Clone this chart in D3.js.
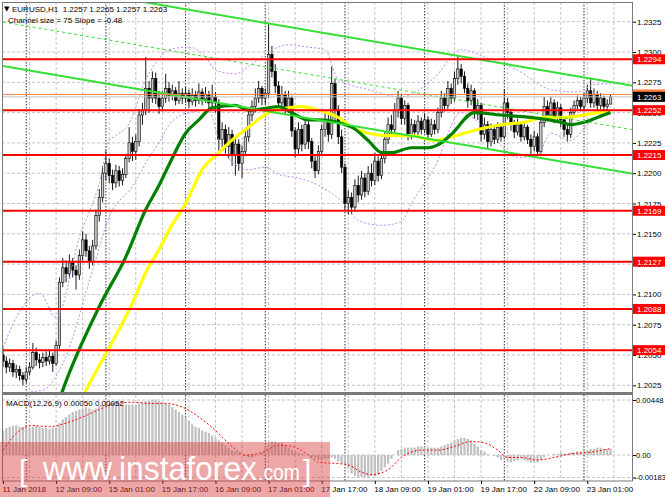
<!DOCTYPE html>
<html><head><meta charset="utf-8">
<script src="https://cdn.jsdelivr.net/npm/d3@7"></script>
<style>
body{margin:0;background:#fff;}
svg{display:block;font-family:"Liberation Sans",Arial,sans-serif;}
</style>
</head><body>
<svg id="c" width="665" height="499"></svg>
<script>
// ---------- texts ----------
const symbolHeader = "EURUSD,H1  1.2257 1.2265 1.2257 1.2263";
const channelInfo = "Channel size = 75 Slope = -0.48";
const macdHeader = "MACD(12,26,9) 0.00050 0.00052";

// ---------- axes ----------
const timeLabels = ["11 Jan 2018","12 Jan 09:00","15 Jan 01:00","15 Jan 17:00","16 Jan 09:00","17 Jan 01:00","17 Jan 17:00","18 Jan 09:00","19 Jan 01:00","19 Jan 17:00","22 Jan 09:00","23 Jan 01:00"];
const timeLabelIdx = [0,16,32,48,64,80,96,112,128,144,160,176];
const daySepIdx = [7,31,55,79,103,127,151,175];
const gridIdx = [8,16,24,32,40,48,56,64,72,80,88,96,104,112,120,128,136,144,152,160,168,176,184];
const priceTicks = [1.2025,1.2050,1.2075,1.2100,1.2125,1.2150,1.2175,1.2200,1.2225,1.2250,1.2275,1.2300,1.2325];
const macdTicks = [0.00448, 0.0, -0.00183];
const macdTickLabels = ["0.00448","0.00","-0.00183"];

// ---------- levels ----------
const levelValues = [1.2294,1.2252,1.2215,1.2169,1.2127,1.2088,1.2054];
const orangeLevel = 1.2265;
const lastPrice = 1.2263;

// ---------- candles (H1) ----------
const openP = [1.2050,1.2045,1.2040,1.2043,1.2036,1.2038,1.2033,1.2030,1.2036,1.2040,
1.2052,1.2046,1.2044,1.2048,1.2045,1.2049,1.2043,1.2058,1.2110,1.2122,
1.2117,1.2126,1.2120,1.2116,1.2132,1.2145,1.2136,1.2127,1.2140,1.2165,
1.2180,1.2200,1.2208,1.2198,1.2192,1.2202,1.2194,1.2199,1.2212,1.2225,
1.2218,1.2226,1.2248,1.2252,1.2270,1.2262,1.2278,1.2262,1.2255,1.2262,
1.2270,1.2264,1.2268,1.2260,1.2266,1.2262,1.2266,1.2259,1.2264,1.2260,
1.2267,1.2261,1.2265,1.2258,1.2263,1.2258,1.2228,1.2236,1.2222,1.2232,
1.2215,1.2224,1.2208,1.2218,1.2230,1.2248,1.2255,1.2262,1.2270,1.2262,
1.2266,1.2298,1.2284,1.2272,1.2258,1.2265,1.2254,1.2262,1.2235,1.2220,
1.2236,1.2224,1.2240,1.2226,1.2210,1.2202,1.2218,1.2236,1.2244,1.2232,
1.2274,1.2252,1.2230,1.2205,1.2175,1.2180,1.2172,1.2190,1.2182,1.2196,
1.2185,1.2200,1.2194,1.2210,1.2198,1.2212,1.2228,1.2240,1.2236,1.2252,
1.2262,1.2245,1.2256,1.2232,1.2240,1.2234,1.2243,1.2236,1.2244,1.2232,
1.2240,1.2236,1.2250,1.2262,1.2256,1.2270,1.2262,1.2278,1.2286,1.2280,
1.2270,1.2260,1.2268,1.2250,1.2256,1.2232,1.2240,1.2226,1.2236,1.2228,
1.2238,1.2230,1.2258,1.2250,1.2240,1.2234,1.2240,1.2230,1.2238,1.2228,
1.2222,1.2230,1.2218,1.2242,1.2255,1.2248,1.2258,1.2246,1.2254,1.2244,
1.2236,1.2232,1.2250,1.2256,1.2260,1.2255,1.2262,1.2268,1.2258,1.2265,
1.2256,1.2262,1.2255,1.2257];
const highP = [1.2056,1.2049,1.2047,1.2046,1.2042,1.2041,1.2036,1.2040,1.2044,1.2060,
1.2056,1.2051,1.2052,1.2053,1.2054,1.2052,1.2062,1.2114,1.2130,1.2128,
1.2133,1.2130,1.2124,1.2137,1.2152,1.2150,1.2140,1.2145,1.2170,1.2187,
1.2206,1.2219,1.2212,1.2203,1.2207,1.2206,1.2204,1.2216,1.2238,1.2230,
1.2232,1.2253,1.2258,1.2296,1.2276,1.2284,1.2283,1.2268,1.2268,1.2282,
1.2275,1.2273,1.2271,1.2276,1.2270,1.2271,1.2269,1.2270,1.2268,1.2274,
1.2270,1.2271,1.2268,1.2273,1.2267,1.2261,1.2242,1.2240,1.2238,1.2236,
1.2229,1.2228,1.2223,1.2235,1.2252,1.2260,1.2270,1.2276,1.2272,1.2270,
1.2323,1.2305,1.2290,1.2276,1.2272,1.2268,1.2268,1.2264,1.2238,1.2242,
1.2240,1.2246,1.2243,1.2229,1.2214,1.2223,1.2240,1.2250,1.2248,1.2288,
1.2278,1.2256,1.2236,1.2208,1.2186,1.2184,1.2195,1.2198,1.2202,1.2200,
1.2206,1.2208,1.2217,1.2214,1.2218,1.2234,1.2246,1.2248,1.2258,1.2268,
1.2265,1.2260,1.2258,1.2245,1.2244,1.2248,1.2246,1.2249,1.2247,1.2245,
1.2244,1.2254,1.2268,1.2266,1.2276,1.2274,1.2284,1.2296,1.2290,1.2284,
1.2274,1.2273,1.2270,1.2261,1.2258,1.2246,1.2243,1.2241,1.2240,1.2242,
1.2241,1.2269,1.2262,1.2253,1.2244,1.2245,1.2243,1.2242,1.2240,1.2232,
1.2235,1.2233,1.2246,1.2263,1.2260,1.2263,1.2261,1.2259,1.2257,1.2247,
1.2240,1.2254,1.2260,1.2264,1.2263,1.2266,1.2273,1.2278,1.2270,1.2268,
1.2266,1.2264,1.2261,1.2265];
const lowP = [1.2040,1.2035,1.2036,1.2032,1.2031,1.2029,1.2025,1.2027,1.2033,1.2038,
1.2041,1.2039,1.2040,1.2041,1.2042,1.2036,1.2041,1.2055,1.2106,1.2110,
1.2113,1.2114,1.2104,1.2112,1.2128,1.2131,1.2121,1.2124,1.2137,1.2160,
1.2176,1.2194,1.2192,1.2186,1.2188,1.2189,1.2190,1.2196,1.2209,1.2210,
1.2211,1.2222,1.2240,1.2248,1.2250,1.2258,1.2257,1.2249,1.2251,1.2258,
1.2259,1.2260,1.2256,1.2257,1.2257,1.2258,1.2254,1.2256,1.2255,1.2257,
1.2256,1.2258,1.2253,1.2254,1.2250,1.2218,1.2222,1.2215,1.2212,1.2206,
1.2198,1.2202,1.2196,1.2214,1.2226,1.2243,1.2250,1.2258,1.2256,1.2257,
1.2262,1.2279,1.2266,1.2252,1.2254,1.2249,1.2250,1.2230,1.2213,1.2216,
1.2218,1.2220,1.2220,1.2204,1.2196,1.2199,1.2214,1.2230,1.2226,1.2228,
1.2244,1.2224,1.2200,1.2170,1.2166,1.2166,1.2168,1.2176,1.2178,1.2180,
1.2182,1.2189,1.2190,1.2193,1.2195,1.2208,1.2224,1.2230,1.2232,1.2246,
1.2240,1.2240,1.2227,1.2228,1.2230,1.2231,1.2232,1.2233,1.2229,1.2230,
1.2232,1.2233,1.2246,1.2251,1.2253,1.2257,1.2259,1.2273,1.2274,1.2266,
1.2254,1.2256,1.2245,1.2244,1.2226,1.2228,1.2220,1.2222,1.2224,1.2225,
1.2226,1.2228,1.2245,1.2235,1.2229,1.2231,1.2226,1.2227,1.2224,1.2215,
1.2218,1.2214,1.2216,1.2238,1.2243,1.2244,1.2241,1.2242,1.2238,1.2230,
1.2226,1.2229,1.2246,1.2252,1.2251,1.2252,1.2258,1.2254,1.2254,1.2251,
1.2253,1.2250,1.2252,1.2257];
const closeP = [1.2045,1.2040,1.2043,1.2036,1.2038,1.2033,1.2030,1.2036,1.2040,1.2052,
1.2046,1.2044,1.2048,1.2045,1.2049,1.2043,1.2058,1.2110,1.2122,1.2117,
1.2126,1.2120,1.2116,1.2132,1.2145,1.2136,1.2127,1.2140,1.2165,1.2180,
1.2200,1.2208,1.2198,1.2192,1.2202,1.2194,1.2199,1.2212,1.2225,1.2218,
1.2226,1.2248,1.2252,1.2270,1.2262,1.2278,1.2262,1.2255,1.2262,1.2270,
1.2264,1.2268,1.2260,1.2266,1.2262,1.2266,1.2259,1.2264,1.2260,1.2267,
1.2261,1.2265,1.2258,1.2263,1.2258,1.2228,1.2236,1.2222,1.2232,1.2215,
1.2224,1.2208,1.2218,1.2230,1.2248,1.2255,1.2262,1.2270,1.2262,1.2266,
1.2298,1.2284,1.2272,1.2258,1.2265,1.2254,1.2262,1.2235,1.2220,1.2236,
1.2224,1.2240,1.2226,1.2210,1.2202,1.2218,1.2236,1.2244,1.2232,1.2274,
1.2252,1.2230,1.2205,1.2175,1.2180,1.2172,1.2190,1.2182,1.2196,1.2185,
1.2200,1.2194,1.2210,1.2198,1.2212,1.2228,1.2240,1.2236,1.2252,1.2262,
1.2245,1.2256,1.2232,1.2240,1.2234,1.2243,1.2236,1.2244,1.2232,1.2240,
1.2236,1.2250,1.2262,1.2256,1.2270,1.2262,1.2278,1.2286,1.2280,1.2270,
1.2260,1.2268,1.2250,1.2256,1.2232,1.2240,1.2226,1.2236,1.2228,1.2238,
1.2230,1.2258,1.2250,1.2240,1.2234,1.2240,1.2230,1.2238,1.2228,1.2222,
1.2230,1.2218,1.2242,1.2255,1.2248,1.2258,1.2246,1.2254,1.2244,1.2236,
1.2232,1.2250,1.2256,1.2260,1.2255,1.2262,1.2268,1.2258,1.2265,1.2256,
1.2262,1.2255,1.2257,1.2263];

// ---------- moving averages (read at key bars) ----------
const maGreenIdx = [16,18,29,37,43,47,50,55,59,63,70,74,80,83,87,92,95,105,110,114,117,123,128,132,135,142,150,159,168,171,175,179,183];
const maGreenVal = [1.2005,1.2021,1.2090,1.2131,1.2170,1.2190,1.2207,1.2233,1.2244,1.2254,1.2256,1.2252,1.2254,1.2255,1.2250,1.2244,1.2244,1.2238,1.2227,1.2217,1.2217,1.2221,1.2221,1.2225,1.2232,1.2250,1.2248,1.2246,1.2242,1.2240,1.2242,1.2246,1.2250];
const maYellowIdx = [22,25,32,39,43,47,50,55,60,65,68,74,80,86,90,95,101,105,110,116,123,130,135,143,150,157,163,169,175,179,183];
const maYellowVal = [1.2004,1.2021,1.2056,1.2093,1.2118,1.2137,1.2153,1.2175,1.2203,1.2217,1.2225,1.2238,1.2250,1.2254,1.2255,1.2252,1.2246,1.2238,1.2233,1.2231,1.2231,1.2227,1.2230,1.2236,1.2240,1.2242,1.2246,1.2246,1.2248,1.2250,1.2251];

// ---------- bollinger bands (read at key bars) ----------
const bbUpIdx = [0,4,11,16,23,29,32,34,38,43,46,50,56,61,64,70,75,80,86,92,97,101,110,120,130,138,145,155,165,173,178,183];
const bbUpVal = [1.2056,1.2081,1.2101,1.2081,1.2147,1.2192,1.2227,1.2231,1.2241,1.2277,1.2291,1.2302,1.2304,1.2296,1.2285,1.2282,1.2290,1.2300,1.2306,1.2304,1.2302,1.2277,1.2269,1.2263,1.2279,1.2302,1.2296,1.2285,1.2269,1.2267,1.2273,1.2274];
const bbLoIdx = [0,12,18,27,32,39,44,47,50,56,62,65,70,74,79,83,89,95,103,107,114,120,123,130,138,145,155,161,165,171,176,183];
const bbLoVal = [1.2018,1.2021,1.2043,1.2120,1.2164,1.2189,1.2213,1.2225,1.2240,1.2250,1.2252,1.2227,1.2207,1.2203,1.2205,1.2199,1.2196,1.2190,1.2174,1.2161,1.2157,1.2160,1.2175,1.2205,1.2250,1.2238,1.2213,1.2215,1.2233,1.2227,1.2240,1.2255];

// ---------- regression channel ----------
const channelIdx = [0,190];
const channelMid = [1.23248,1.22357];
const channelUp = [1.23611,1.22720];
const channelLo = [1.22885,1.21994];

// ---------- MACD ----------
const macdHist = [0.0020,0.0022,0.0023,0.0024,0.0024,0.0023,0.0023,0.0023,0.0022,0.0023,
0.0024,0.0023,0.0022,0.0022,0.0021,0.0022,0.0022,0.0026,0.0029,0.0031,
0.0033,0.0035,0.0036,0.0037,0.0038,0.0039,0.0038,0.0037,0.0038,0.0040,
0.0041,0.0042,0.0042,0.0043,0.0042,0.0042,0.0041,0.0041,0.0041,0.0041,
0.0041,0.0042,0.0043,0.0044,0.0044,0.0045,0.0045,0.0044,0.0043,0.0042,
0.0041,0.0039,0.0037,0.0035,0.0033,0.0031,0.0028,0.0025,0.0023,0.0022,
0.0020,0.0019,0.0018,0.0016,0.0014,0.0012,0.0010,0.0008,0.0006,0.0004,
0.0003,0.0002,0.0000,-0.0001,-0.0002,-0.0002,-0.0001,0.0000,0.0002,0.0006,
0.0009,0.0011,0.0011,0.0010,0.0010,0.0008,0.0006,0.0004,0.0003,0.0002,
0.0001,0.0000,0.0000,-0.0002,-0.0003,-0.0004,-0.0004,-0.0003,-0.0003,-0.0002,
-0.0003,-0.0005,-0.0007,-0.0009,-0.0011,-0.0015,-0.0017,-0.0018,-0.0018,-0.0018,
-0.0018,-0.0017,-0.0017,-0.0016,-0.0013,-0.0010,-0.0007,-0.0003,0.0000,0.0004,
0.0005,0.0006,0.0006,0.0006,0.0006,0.0007,0.0007,0.0007,0.0006,0.0006,
0.0006,0.0006,0.0007,0.0008,0.0009,0.0010,0.0012,0.0013,0.0014,0.0014,
0.0013,0.0012,0.0009,0.0007,0.0004,0.0003,0.0001,0.0000,-0.0001,-0.0002,
-0.0004,-0.0003,-0.0005,-0.0006,-0.0005,-0.0004,-0.0003,-0.0004,-0.0005,-0.0006,
-0.0006,-0.0006,-0.0004,-0.0002,0.0000,0.0000,0.0001,0.0001,0.0002,0.0001,
0.0001,0.0002,0.0002,0.0003,0.0003,0.0004,0.0004,0.0005,0.0005,0.0006,
0.0006,0.0005,0.0005,0.0005];
const signalIdx = [0,5,9,14,19,24,29,34,39,44,49,54,59,64,69,73,78,83,87,92,95,101,104,108,111,116,120,126,131,136,141,145,149,152,156,161,166,171,176,183];
const signalVal = [0.0004,0.0020,0.0024,0.0023,0.0026,0.0031,0.0037,0.0042,0.0043,0.0042,0.0042,0.0039,0.0031,0.0020,0.0007,0.0000,0.0002,0.0008,0.0007,0.0000,-0.0006,-0.0007,-0.0008,-0.0014,-0.0016,-0.0012,-0.0002,0.0004,0.0004,0.0007,0.0011,0.0010,0.0004,-0.0002,-0.0002,-0.0004,-0.0002,0.0001,0.0002,0.00052];

// ================= drawing =================
const svg = d3.select("#c");
const W = 665, H = 499;
const L = 2, R = 633, MT = 2, MB = 392, ST = 395, SB = 481;
const x = d3.scaleLinear().domain([0,190]).range([3,633.8]);
const y = d3.scaleLinear().domain([1.2025,1.2325]).range([385.3,21.7]);
const ym = d3.scaleLinear().domain([-0.00183,0.00448]).range([477.5,400]);

svg.append("rect").attr("width",W).attr("height",H).attr("fill","#fff");
const defs = svg.append("defs");
defs.append("clipPath").attr("id","cm").append("rect").attr("x",L).attr("y",MT).attr("width",R-L).attr("height",MB-MT);
defs.append("clipPath").attr("id","cs").append("rect").attr("x",L).attr("y",ST).attr("width",R-L).attr("height",SB-ST);

const gm = svg.append("g").attr("clip-path","url(#cm)");
const gs = svg.append("g").attr("clip-path","url(#cs)");

// grids
const gridCol = "#c4c4c4";
gm.selectAll(".hg").data(priceTicks).join("line")
  .attr("x1",L).attr("x2",R).attr("y1",d=>y(d)).attr("y2",d=>y(d))
  .attr("stroke",gridCol).attr("stroke-dasharray","3,2");
gs.selectAll(".hg").data(macdTicks).join("line")
  .attr("x1",L).attr("x2",R).attr("y1",d=>ym(d)).attr("y2",d=>ym(d))
  .attr("stroke",gridCol).attr("stroke-dasharray","3,2");
[gm,gs].forEach((g,k)=>{
  const y1 = k===0?MT:ST, y2 = k===0?MB:SB;
  g.selectAll(".vg").data(gridIdx).join("line")
    .attr("x1",d=>x(d)).attr("x2",d=>x(d)).attr("y1",y1).attr("y2",y2)
    .attr("stroke",gridCol).attr("stroke-dasharray","3,2");
  g.selectAll(".sep").data(daySepIdx).join("line")
    .attr("x1",d=>x(d)).attr("x2",d=>x(d)).attr("y1",y1).attr("y2",y2)
    .attr("stroke","#333").attr("stroke-dasharray","1.5,1.5");
});

// candles
const bars = d3.range(closeP.length);
gm.selectAll(".wick").data(bars).join("line")
  .attr("x1",i=>x(i)).attr("x2",i=>x(i))
  .attr("y1",i=>y(highP[i])).attr("y2",i=>y(lowP[i]))
  .attr("stroke","#000").attr("stroke-width",0.9);
gm.selectAll(".body").data(bars).join("rect")
  .attr("x",i=>x(i)-1.2).attr("width",2.4)
  .attr("y",i=>y(Math.max(openP[i],closeP[i])))
  .attr("height",i=>Math.max(0.8, Math.abs(y(openP[i])-y(closeP[i]))))
  .attr("fill",i=>closeP[i]>=openP[i]?"#c8c8c8":"#000")
  .attr("stroke","#000").attr("stroke-width",0.6);

// bollinger bands
const lineC = d3.line().curve(d3.curveMonotoneX);
function pts(idx,val,sc){ return idx.map((d,k)=>[x(d),sc(val[k])]); }
gm.append("path").attr("d",lineC(pts(bbUpIdx,bbUpVal,y)))
  .attr("fill","none").attr("stroke","#bf88f0").attr("stroke-width",1).attr("stroke-dasharray","2,2");
gm.append("path").attr("d",lineC(pts(bbLoIdx,bbLoVal,y)))
  .attr("fill","none").attr("stroke","#bf88f0").attr("stroke-width",1).attr("stroke-dasharray","2,2");

// moving averages
gm.append("path").attr("d",lineC(pts(maYellowIdx,maYellowVal,y)))
  .attr("fill","none").attr("stroke","#ffff00").attr("stroke-width",3.2);
gm.append("path").attr("d",lineC(pts(maGreenIdx,maGreenVal,y)))
  .attr("fill","none").attr("stroke","#008000").attr("stroke-width",3.2);

// channel
const lineL = d3.line();
gm.append("path").attr("d",lineL(pts(channelIdx,channelUp,y)))
  .attr("stroke","#33e033").attr("stroke-width",2).attr("fill","none");
gm.append("path").attr("d",lineL(pts(channelIdx,channelLo,y)))
  .attr("stroke","#33e033").attr("stroke-width",2).attr("fill","none");
gm.append("path").attr("d",lineL(pts(channelIdx,channelMid,y)))
  .attr("stroke","#33e033").attr("stroke-width",1).attr("stroke-dasharray","3,3").attr("fill","none");

// horizontal levels
gm.append("line").attr("x1",L).attr("x2",R).attr("y1",y(orangeLevel)).attr("y2",y(orangeLevel))
  .attr("stroke","#ff8040").attr("stroke-width",1);
gm.append("line").attr("x1",L).attr("x2",R).attr("y1",y(lastPrice)).attr("y2",y(lastPrice))
  .attr("stroke","#c0c0c0").attr("stroke-width",1);
gm.selectAll(".lvl").data(levelValues).join("line")
  .attr("x1",L).attr("x2",R).attr("y1",d=>y(d)).attr("y2",d=>y(d))
  .attr("stroke","#ff0000").attr("stroke-width",2);

// MACD histogram & signal
const bw = 2.2;
gs.selectAll(".hb").data(bars).join("rect")
  .attr("x",i=>x(i)-bw/2).attr("width",bw)
  .attr("y",i=>Math.min(ym(0),ym(macdHist[i])))
  .attr("height",i=>Math.abs(ym(macdHist[i])-ym(0)))
  .attr("fill","#c0c0c0");
gs.append("path").attr("d",lineC(pts(signalIdx,signalVal,ym)))
  .attr("fill","none").attr("stroke","#ff0000").attr("stroke-width",1).attr("stroke-dasharray","2,2");

// frames
svg.append("rect").attr("x",L+0.5).attr("y",MT+0.5).attr("width",R-L-1).attr("height",MB-MT)
  .attr("fill","none").attr("stroke","#7a7a7a");
svg.append("rect").attr("x",L+0.5).attr("y",ST-0.5).attr("width",R-L-1).attr("height",SB-ST+0.5)
  .attr("fill","none").attr("stroke","#7a7a7a");
svg.append("line").attr("x1",L).attr("x2",R).attr("y1",393.5).attr("y2",393.5).attr("stroke","#7a7a7a").attr("stroke-width",1.5);

// axes
const fs = "8px";
const ay = svg.append("g").attr("transform",`translate(${R},0)`)
  .call(d3.axisRight(y).tickValues(priceTicks).tickSize(3).tickFormat(d3.format(".4f")));
const am = svg.append("g").attr("transform",`translate(${R},0)`)
  .call(d3.axisRight(ym).tickValues(macdTicks).tickSize(3).tickFormat((d,i)=>macdTickLabels[i]));
const ax = svg.append("g").attr("transform",`translate(0,${SB})`)
  .call(d3.axisBottom(x).tickValues(timeLabelIdx).tickSize(3).tickFormat((d,i)=>timeLabels[i]));
[ay,am,ax].forEach(a=>{
  a.select(".domain").remove();
  a.selectAll("text").attr("font-size",fs).attr("font-family","'Liberation Sans',Arial,sans-serif").attr("fill","#000");
  a.selectAll("line").attr("stroke","#000");
});
ay.selectAll("text").attr("x",4);
am.selectAll("text").attr("x",3).attr("font-size","7.6px");
ax.selectAll("text").attr("text-anchor","start").attr("x",-1).attr("y",5).attr("dy","0.71em");

// price tags on the right
function tag(v, bg, fg){
  const g = svg.append("g");
  g.append("rect").attr("x",R).attr("y",y(v)-5).attr("width",W-R).attr("height",10).attr("fill",bg);
  g.append("text").attr("x",R+4).attr("y",y(v)+3).attr("font-size",fs).attr("fill",fg).text(d3.format(".4f")(v));
}
tag(orangeLevel,"#ff8040","#fff");
levelValues.forEach(v=>tag(v,"#ff0000","#fff"));
tag(lastPrice,"#000","#fff");

// header texts
svg.append("text").attr("x",4).attr("y",11).attr("font-size","7px").attr("font-family","DejaVu Sans").text("\u25BC");
svg.append("text").attr("x",12).attr("y",12).attr("font-size",fs).attr("xml:space","preserve").text(symbolHeader);
svg.append("text").attr("x",8).attr("y",23).attr("font-size",fs).text(channelInfo);
svg.append("text").attr("x",6).attr("y",406).attr("font-size",fs).text(macdHeader);

// watermark
const wm = svg.append("g");
wm.append("rect").attr("x",0).attr("y",442).attr("width",330).attr("height",55).attr("fill","rgba(215,60,60,0.45)");
wm.append("text").attr("x",19).attr("y",481).attr("font-size","30px").attr("fill","#fff").attr("font-weight","300").text("[");
wm.append("text").attr("x",43).attr("y",480).attr("font-size","34px").attr("fill","#fff")
  .attr("textLength",214).attr("lengthAdjust","spacingAndGlyphs").text("www.instaforex");
wm.append("text").attr("x",258).attr("y",480).attr("font-size","22px").attr("fill","#fff")
  .attr("textLength",42).attr("lengthAdjust","spacingAndGlyphs").text(".com");
wm.append("text").attr("x",303).attr("y",481).attr("font-size","30px").attr("fill","#fff").attr("font-weight","300").text("]");
</script>
</body></html>
